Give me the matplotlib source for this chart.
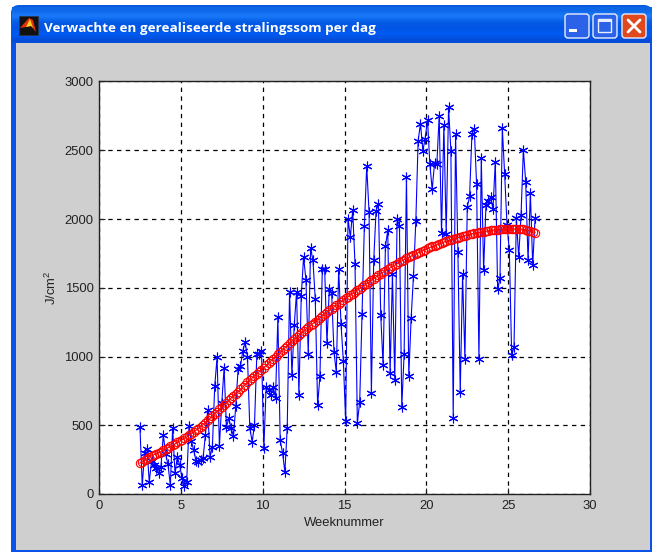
import numpy as np
import matplotlib
matplotlib.use("Agg")
import matplotlib.pyplot as plt
from matplotlib.patches import FancyBboxPatch, Rectangle, Polygon

plt.rcParams['font.family'] = ['Liberation Sans', 'DejaVu Sans']

first_week = 2.5
measured = [
    490, 65, 300, 330,
    90, 240, 210, 190, 150, 200, 430,
    290, 215, 65, 480, 150, 270, 210,
    120, 60, 90, 495, 385, 320, 240,
    235, 245, 260, 430, 610, 270, 345,
    785, 995, 350, 660, 915, 490, 550,
    480, 420, 640, 910, 930, 1040, 1105,
    1000, 480, 380, 500, 1015, 1020, 1040,
    335, 780, 760, 720, 780, 700, 1285,
    390, 300, 160, 480, 1467, 864, 1227,
    1470, 719, 1440, 1723, 1560, 1020, 1786,
    1700, 1416, 646, 859, 1633, 1640, 1100,
    1490, 1460, 1033, 886, 1633, 1240, 968,
    532, 2000, 1870, 2062, 1670, 518, 670,
    1307, 1950, 2385, 2050, 736, 1700, 2060,
    2110, 1300, 937, 1800, 1917, 878, 1600,
    828, 2000, 1950, 634, 1016, 2305, 859,
    1278, 1585, 1982, 2570, 2694, 2498, 2585,
    2723, 2400, 2215, 2404, 2400, 2752, 1897,
    2687, 1890, 2812, 2498, 550, 2621, 1760,
    740, 1597, 980, 2086, 2164, 2620, 2658,
    2251, 980, 2442, 1627, 2100, 2130, 2160,
    2070, 2418, 1489, 1569, 2660, 2324, 1960,
    1772, 1010, 1070, 2004, 1723, 2026, 2505,
    2268, 1699, 2186, 1663, 2004, 1234, 1900,
    1900, 1900, 1900,
][:170]
expected = [
    225, 235, 245, 258,
    270, 278, 286, 293, 301, 309, 318,
    328, 337, 346, 355, 365, 375, 385,
    395, 405, 415, 426, 438, 450, 463,
    476, 490, 505, 520, 535, 550, 568,
    585, 600, 615, 632, 648, 665, 682,
    698, 712, 728, 745, 762, 778, 795,
    812, 828, 845, 860, 875, 890, 905,
    920, 935, 952, 968, 984, 1000, 1015,
    1030, 1048, 1063, 1078, 1095, 1110, 1125,
    1140, 1155, 1170, 1184, 1198, 1212, 1226,
    1240, 1254, 1268, 1282, 1296, 1310, 1322,
    1335, 1348, 1360, 1372, 1385, 1397, 1410,
    1422, 1434, 1446, 1458, 1470, 1482, 1494,
    1506, 1518, 1530, 1542, 1554, 1566, 1578,
    1590, 1602, 1612, 1622, 1633, 1644, 1655,
    1665, 1675, 1685, 1695, 1705, 1714, 1722,
    1730, 1738, 1746, 1754, 1762, 1770, 1778,
    1786, 1793, 1800, 1807, 1814, 1820, 1826,
    1832, 1838, 1844, 1850, 1855, 1860, 1865,
    1870, 1875, 1880, 1884, 1888, 1892, 1896,
    1899, 1902, 1905, 1908, 1911, 1914, 1917,
    1919, 1921, 1923, 1925, 1926, 1927, 1928,
    1929, 1929, 1928, 1928, 1927, 1926, 1925,
    1920, 1916, 1912, 1907, 1900,
]
print(len(measured), len(expected))
weeks_m = first_week + np.arange(len(measured)) / 7
weeks_e = first_week + np.arange(len(expected)) / 7
x_ticks = [0, 5, 10, 15, 20, 25, 30]
y_ticks = [0, 500, 1000, 1500, 2000, 2500, 3000]
window_title = "Verwachte en gerealiseerde stralingssom per dag"

W, H = 652, 552
fig = plt.figure(figsize=(W / 100, H / 100), dpi=100, facecolor='white')

# window chrome, in pixel coordinates
ch = fig.add_axes([0, 0, 1, 1], zorder=0)
ch.set_xlim(0, W); ch.set_ylim(H, 0); ch.axis('off')
ch.add_patch(FancyBboxPatch((11, 5), 641, 60, boxstyle="round,pad=0,rounding_size=8",
                            fc='#0A5BE0', ec='none'))
ch.add_patch(Rectangle((11, 30), 641, 522, fc='#0A52E8', ec='none'))
grad = np.array([0.0, .10, .25, .6, .8, 1.0])[:, None]
cols = np.array([[0.05, 0.40, 0.90], [0.10, 0.48, 0.98], [0.02, 0.36, 0.90],
                 [0.00, 0.33, 0.90], [0.00, 0.36, 0.95], [0.02, 0.30, 0.85]])
ch.imshow(cols[:, None, :], extent=(12, 652, 43, 7), aspect='auto', zorder=1, interpolation='bilinear')
ch.set_xlim(0, W); ch.set_ylim(H, 0)
ch.add_patch(Rectangle((16, 43), 634, 507, fc='#CFCFCF', ec='none', zorder=2))
# matlab icon
ch.add_patch(Rectangle((19, 16), 19, 19, fc='#111111', ec='#334', lw=0.5, zorder=2))
ch.add_patch(Polygon([(20, 28), (29, 18), (33, 20), (36, 32), (31, 26), (26, 27)], fc='#E03010', ec='none', zorder=3))
ch.add_patch(Polygon([(26, 27), (30, 19), (33, 28), (31, 26)], fc='#FFD020', ec='none', zorder=3))
ch.text(44, 28.5, window_title, color='white', fontsize=9.7, fontweight='bold',
        family=['Open Sans', 'DejaVu Sans'], va='center', ha='left', zorder=4)
# caption buttons
for x0, fc in [(564, '#2C62E8'), (592, '#2C62E8'), (621, '#E0481E')]:
    ch.add_patch(FancyBboxPatch((x0 + 1, 14), 24, 24, boxstyle="round,pad=0,rounding_size=3",
                                fc=fc, ec='#E8EEFF', lw=1, zorder=3))
ch.add_patch(Rectangle((569, 29), 8, 3, fc='white', ec='none', zorder=4))
ch.add_patch(Rectangle((598, 19), 13, 13, fc='none', ec='#E8EEFF', lw=1, zorder=4))
ch.add_patch(Rectangle((598, 19), 13, 3, fc='#E8EEFF', ec='none', zorder=4))
ch.plot([628, 640], [20, 32], color='white', lw=2, zorder=4, solid_capstyle='round')
ch.plot([628, 640], [32, 20], color='white', lw=2, zorder=4, solid_capstyle='round')

# plot axes
L, R, T, B = 99, 590, 81.5, 494
ax = fig.add_axes([L / W, 1 - B / H, (R - L) / W, (B - T) / H], zorder=1, facecolor='white')
ax.plot(weeks_m, measured, '-', color='#0000FF', lw=0.8, marker=(6, 2, 0), ms=7, mew=0.8, zorder=3)
ax.plot(weeks_e, expected, '-', color='#FF0000', lw=0.8, marker='o', ms=6, mfc='none', mew=0.8, zorder=4)
ax.set_xlim(0, 30); ax.set_ylim(0, 3000)
ax.set_xticks(x_ticks); ax.set_yticks(y_ticks)
ax.grid(True, color='black', lw=0.9, linestyle=(0, (3.5, 3.5)), zorder=1)
ax.set_axisbelow(True)
ax.tick_params(direction='in', length=4, width=0.8, colors='#222222', labelsize=9.4, pad=4)
for s in ax.spines.values():
    s.set_linewidth(1.0); s.set_color('#222222')
ax.set_xlabel('Weeknummer', fontsize=9.4, color='#222222', labelpad=4)
ax.set_ylabel('J/cm$^2$', fontsize=9.4, color='#222222', labelpad=4)
plt.rcParams['mathtext.default'] = 'regular'
fig.savefig('out.png', dpi=100, facecolor='white')
